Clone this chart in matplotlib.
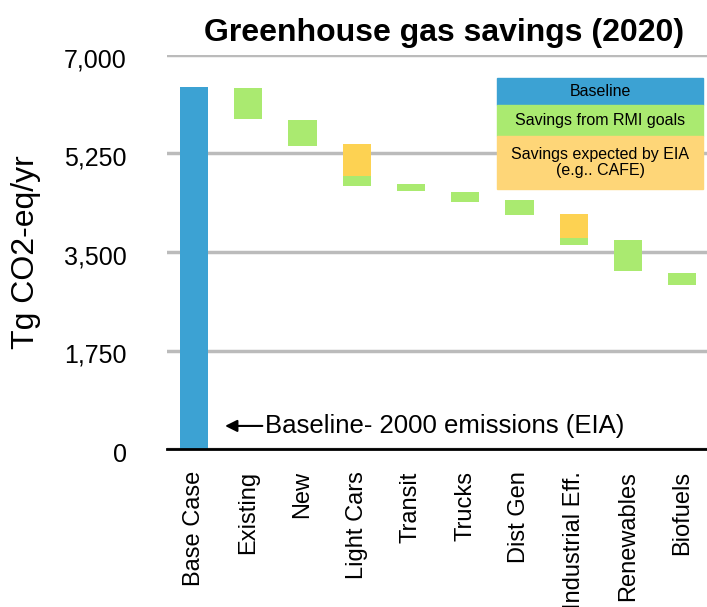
import matplotlib.pyplot as plt
from matplotlib.patches import Rectangle
from matplotlib.ticker import FuncFormatter
from matplotlib.transforms import ScaledTranslation
import numpy as np

plt.rcParams['font.family'] = ['Liberation Sans', 'DejaVu Sans']

# categories and bar ranges (Tg CO2-eq/yr)
categories = ["Base Case", "Existing", "New", "Light Cars", "Transit", "Trucks",
              "Dist Gen", "Industrial Eff.", "Renewables", "Biofuels"]
baseline = 6430
# green (RMI goals) ranges: low, high
rmi_low = [np.nan, 5860, 5380, 4670, 4590, 4390, 4160, 3620, 3160, 2910]
rmi_high = [np.nan, 6410, 5850, 4850, 4710, 4570, 4420, 3750, 3710, 3130]
# orange (EIA expected) ranges: low, high
eia_low = [np.nan, np.nan, np.nan, 4850, np.nan, np.nan, np.nan, 3750, np.nan, np.nan]
eia_high = [np.nan, np.nan, np.nan, 5420, np.nan, np.nan, np.nan, 4180, np.nan, np.nan]
yticks = [0, 1750, 3500, 5250, 7000]

blue = "#3ca2d3"
green = "#aaea70"
orange = "#fdd252"

fig = plt.figure(figsize=(7.07, 6.07), dpi=100)
ax = fig.add_axes([167/707, 1-449/607, 1-167/707, (449-55)/607])

x = np.arange(len(categories))
w = 0.52
ax.bar(x[0], baseline, width=w, color=blue, zorder=3)
rl = np.array(rmi_low); rh = np.array(rmi_high)
ax.bar(x, rh - rl, bottom=rl, width=w, color=green, zorder=3)
el = np.array(eia_low); eh = np.array(eia_high)
ax.bar(x, eh - el, bottom=el, width=w, color=orange, zorder=3)

ax.set_xlim(-0.5, 9.46)
ax.set_ylim(0, 7000)
ax.set_yticks(yticks)
ax.yaxis.set_major_formatter(FuncFormatter(lambda v, p: f"{int(v):,}"))
ax.set_xticks(x)
ax.set_xticklabels(categories, rotation=90, fontsize=17)
ax.tick_params(axis='y', length=0, pad=29, labelsize=18)
ax.tick_params(axis='x', length=0, pad=16)
shift = ScaledTranslation(0, -3/100, fig.dpi_scale_trans)
for lab in ax.get_yticklabels():
    lab.set_transform(lab.get_transform() + shift)
for s in ['left', 'right', 'top']:
    ax.spines[s].set_visible(False)
ax.spines['bottom'].set_linewidth(2)
ax.spines['bottom'].set_zorder(4)
ax.grid(axis='y', color='#bbbbbb', linewidth=2.5, zorder=1)

# annotation
ax.annotate("", xy=(0.52, 410), xytext=(1.31, 410),
            arrowprops=dict(arrowstyle='-|>', color='black', lw=1.5, mutation_scale=18))
ax.text(1.31, 410, "Baseline- 2000 emissions (EIA)", fontsize=18.5, va='center', ha='left')

fig.text(444/707, 1-33/607, "Greenhouse gas savings (2020)", fontsize=23,
         fontweight='bold', ha='center', va='center')
fig.text(26/707, 1-252/607, "Tg CO2-eq/yr", fontsize=23, rotation=90,
         ha='center', va='center')

# legend boxes
lx0, lx1 = 497/707, 703/707
boxes = [(78, 105, blue, "Baseline"),
         (105, 136, green, "Savings from RMI goals"),
         (136, 189, "#fed678", "Savings expected by EIA\n(e.g.. CAFE)")]
for top, bot, col, label in boxes:
    fig.add_artist(Rectangle((lx0, 1-bot/607), lx1-lx0, (bot-top)/607,
                             transform=fig.transFigure, color=col, zorder=5))
    fig.text((lx0+lx1)/2, 1-(top+bot)/2/607, label, fontsize=11.5, ha='center',
             va='center', zorder=6, linespacing=1.15)

fig.savefig("out.png", dpi=100)
